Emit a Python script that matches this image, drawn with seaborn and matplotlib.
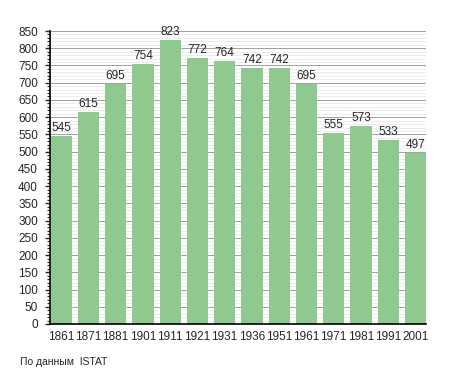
import numpy as np
import pandas as pd
import seaborn as sns
import matplotlib.pyplot as plt
from matplotlib.ticker import MultipleLocator

years = ['1861', '1871', '1881', '1901', '1911', '1921', '1931',
         '1936', '1951', '1961', '1971', '1981', '1991', '2001']
population = [545, 615, 695, 754, 823, 772, 764, 742, 742, 695, 555, 573, 533, 497]

df = pd.DataFrame({'year': years, 'population': population})

sns.set_style('white')
plt.rcParams['font.family'] = ['Liberation Sans', 'DejaVu Sans']

fig = plt.figure(figsize=(4.55, 3.73), dpi=100)
ax = fig.add_axes([50 / 455, 1 - 324 / 373, 376 / 455, 293 / 373])

sns.barplot(data=df, x='year', y='population', color='#90c990', saturation=1,
            width=0.78, linewidth=0, ax=ax, zorder=3)

ax.set_ylim(0, 850)
ax.set_xlim(-0.41, 13.39)
ax.yaxis.set_major_locator(MultipleLocator(50))
ax.yaxis.set_minor_locator(MultipleLocator(10))
ax.grid(axis='y', which='major', color='#a0a0a0', linewidth=0.7, zorder=0)
ax.grid(axis='y', which='minor', color='#e4e4e4', linewidth=0.5, zorder=0)
ax.set_axisbelow(True)

for s in ['top', 'right']:
    ax.spines[s].set_visible(False)
for s in ['left', 'bottom']:
    ax.spines[s].set_color('black')
    ax.spines[s].set_linewidth(1.2)
    ax.spines[s].set_zorder(5)

ax.tick_params(axis='y', which='major', left=True, length=3.6, width=1, labelsize=8.5, pad=5)
ax.tick_params(axis='y', which='minor', left=True, length=2, width=0.8)
ax.tick_params(axis='x', which='both', bottom=False, labelsize=8.5, pad=1.5)
ax.set_xlabel('')
ax.set_ylabel('')

for i, v in enumerate(population):
    ax.text(i, v + 6, str(v), ha='center', va='bottom', fontsize=8.5, zorder=4)

fig.text(20 / 455, 1 - 362 / 373, 'По данным  ISTAT', fontsize=7.5, va='center')

fig.savefig('out.png', dpi=100)
